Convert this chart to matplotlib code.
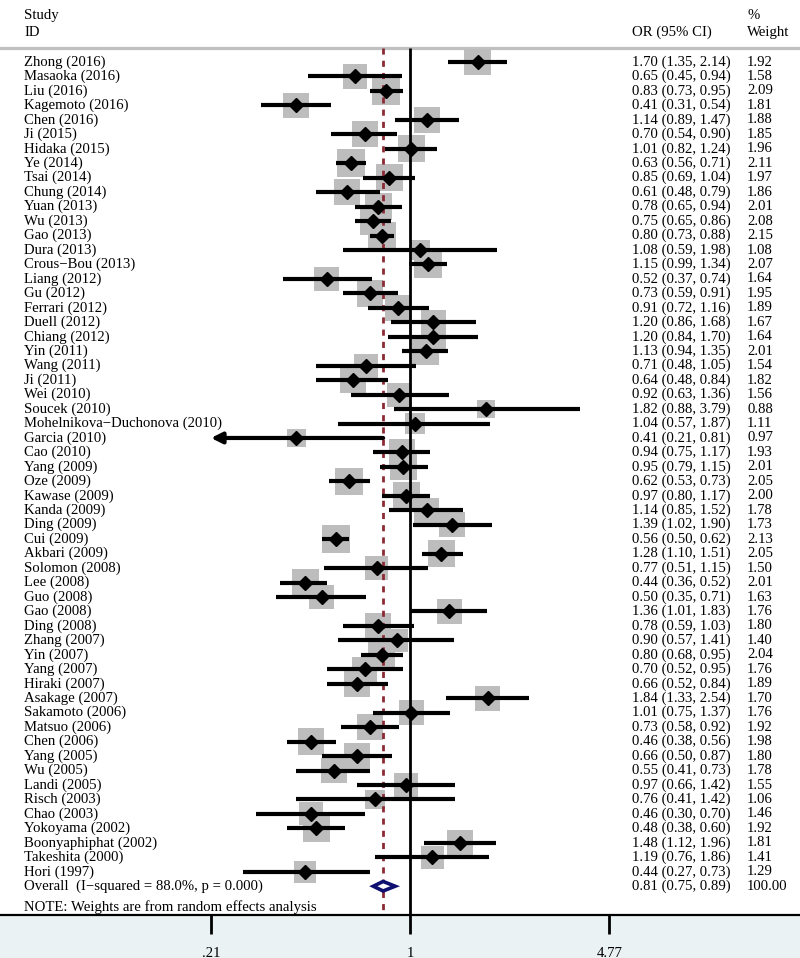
import numpy as np
import matplotlib
matplotlib.use("Agg")
import matplotlib.pyplot as plt
from matplotlib.transforms import blended_transform_factory
from matplotlib.ticker import NullLocator

plt.rcParams['font.family'] = ['Liberation Serif', 'DejaVu Serif']

# study data
studies = ["Zhong (2016)", "Masaoka (2016)", "Liu (2016)", "Kagemoto (2016)", "Chen (2016)",
           "Ji (2015)", "Hidaka (2015)", "Ye (2014)", "Tsai (2014)", "Chung (2014)",
           "Yuan (2013)", "Wu (2013)", "Gao (2013)", "Dura (2013)", "Crous\u2212Bou (2013)",
           "Liang (2012)", "Gu (2012)", "Ferrari (2012)", "Duell (2012)", "Chiang (2012)",
           "Yin (2011)", "Wang (2011)", "Ji (2011)", "Wei (2010)", "Soucek (2010)",
           "Mohelnikova\u2212Duchonova (2010)", "Garcia (2010)", "Cao (2010)", "Yang (2009)",
           "Oze (2009)", "Kawase (2009)", "Kanda (2009)", "Ding (2009)", "Cui (2009)",
           "Akbari (2009)", "Solomon (2008)", "Lee (2008)", "Guo (2008)", "Gao (2008)",
           "Ding (2008)", "Zhang (2007)", "Yin (2007)", "Yang (2007)", "Hiraki (2007)",
           "Asakage (2007)", "Sakamoto (2006)", "Matsuo (2006)", "Chen (2006)", "Yang (2005)",
           "Wu (2005)", "Landi (2005)", "Risch (2003)", "Chao (2003)", "Yokoyama (2002)",
           "Boonyaphiphat (2002)", "Takeshita (2000)", "Hori (1997)"]
odds = [1.70, 0.65, 0.83, 0.41, 1.14, 0.70, 1.01, 0.63, 0.85, 0.61,
        0.78, 0.75, 0.80, 1.08, 1.15, 0.52, 0.73, 0.91, 1.20, 1.20,
        1.13, 0.71, 0.64, 0.92, 1.82, 1.04, 0.41, 0.94, 0.95, 0.62,
        0.97, 1.14, 1.39, 0.56, 1.28, 0.77, 0.44, 0.50, 1.36, 0.78,
        0.90, 0.80, 0.70, 0.66, 1.84, 1.01, 0.73, 0.46, 0.66, 0.55,
        0.97, 0.76, 0.46, 0.48, 1.48, 1.19, 0.44]
lower = [1.35, 0.45, 0.73, 0.31, 0.89, 0.54, 0.82, 0.56, 0.69, 0.48,
         0.65, 0.65, 0.73, 0.59, 0.99, 0.37, 0.59, 0.72, 0.86, 0.84,
         0.94, 0.48, 0.48, 0.63, 0.88, 0.57, 0.21, 0.75, 0.79, 0.53,
         0.80, 0.85, 1.02, 0.50, 1.10, 0.51, 0.36, 0.35, 1.01, 0.59,
         0.57, 0.68, 0.52, 0.52, 1.33, 0.75, 0.58, 0.38, 0.50, 0.41,
         0.66, 0.41, 0.30, 0.38, 1.12, 0.76, 0.27]
upper = [2.14, 0.94, 0.95, 0.54, 1.47, 0.90, 1.24, 0.71, 1.04, 0.79,
         0.94, 0.86, 0.88, 1.98, 1.34, 0.74, 0.91, 1.16, 1.68, 1.70,
         1.35, 1.05, 0.84, 1.36, 3.79, 1.87, 0.81, 1.17, 1.15, 0.73,
         1.17, 1.52, 1.90, 0.62, 1.51, 1.15, 0.52, 0.71, 1.83, 1.03,
         1.41, 0.95, 0.95, 0.84, 2.54, 1.37, 0.92, 0.56, 0.87, 0.73,
         1.42, 1.42, 0.70, 0.60, 1.96, 1.86, 0.73]
weights = [1.92, 1.58, 2.09, 1.81, 1.88, 1.85, 1.96, 2.11, 1.97, 1.86,
           2.01, 2.08, 2.15, 1.08, 2.07, 1.64, 1.95, 1.89, 1.67, 1.64,
           2.01, 1.54, 1.82, 1.56, 0.88, 1.11, 0.97, 1.93, 2.01, 2.05,
           2.00, 1.78, 1.73, 2.13, 2.05, 1.50, 2.01, 1.63, 1.76, 1.80,
           1.40, 2.04, 1.76, 1.89, 1.70, 1.76, 1.92, 1.98, 1.80, 1.78,
           1.55, 1.06, 1.46, 1.92, 1.81, 1.41, 1.29]
overall_or, overall_lo, overall_hi, overall_w = 0.81, 0.75, 0.89, 100.00
overall_label = "Overall  (I\u2212squared = 88.0%, p = 0.000)"
note = "NOTE: Weights are from random effects analysis"
tick_vals = [0.21, 1, 4.77]
tick_labels = [".21", "1", "4.77"]

odds = np.array(odds)
lower = np.array(lower)
upper = np.array(upper)
weights = np.array(weights)
rows = np.arange(len(studies))
n = len(studies)

fig = plt.figure(figsize=(8, 9.58), dpi=100, facecolor='#EAF2F3')
ax = fig.add_axes([0, 43 / 958, 1, 915 / 958])
ax.set_facecolor('white')
ax.set_xscale('log')

# log axis: 1 sits at 410 px, .21 and 4.77 are ~199 px away
k = 199 / np.log(1 / 0.21)
ax.set_xlim(np.exp(-410 / k), np.exp(390 / k))
y_bottom = 58.99
y_top = -4.29
ax.set_ylim(y_bottom, y_top)
hdr = -0.97

ax.axhline(hdr, color='#C0C0C0', lw=2.3, zorder=1)
ax.vlines(1, hdr, y_bottom, color='black', lw=2, zorder=3)
ax.vlines(overall_or, hdr, y_bottom, color='#8B2A35', lw=2,
          linestyles=(0, (2.2, 2.2)), zorder=3)

# weight boxes
ax.scatter(odds, rows, s=weights * 190, marker='s', color='#BDBDBD',
           linewidths=0, zorder=2)

# confidence intervals, arrow where the CI runs off the axis
off = lower <= tick_vals[0]
ax.hlines(rows[~off], lower[~off], upper[~off], color='black', lw=3, zorder=4)
for r in rows[off]:
    ax.annotate('', xy=(lower[r], r), xytext=(upper[r], r),
                arrowprops=dict(arrowstyle='-|>', color='black', lw=3,
                                mutation_scale=16, shrinkA=0, shrinkB=0),
                zorder=4)

ax.plot(odds, rows, 'D', color='black', ms=7.5, linestyle='none', zorder=5)

# pooled estimate diamond
oy = n
ax.fill([overall_lo, overall_or, overall_hi, overall_or],
        [oy, oy - 0.33, oy, oy + 0.33], facecolor='white',
        edgecolor='#101070', lw=2.6, zorder=6)

# text columns
tr = blended_transform_factory(ax.transAxes, ax.transData)
fs = 10.6
x_name, x_ci, x_w = 24 / 800, 632 / 800, 747 / 800
for r, name in enumerate(studies):
    ax.text(x_name, r, name, transform=tr, fontsize=fs, va='center')
    ax.text(x_ci, r, f"{odds[r]:.2f} ({lower[r]:.2f}, {upper[r]:.2f})",
            transform=tr, fontsize=fs, va='center')
    ax.text(x_w, r, f"{weights[r]:.2f}", transform=tr, fontsize=fs, va='center')

ax.text(x_name, oy, overall_label, transform=tr, fontsize=fs, va='center')
ax.text(x_ci, oy, f"{overall_or:.2f} ({overall_lo:.2f}, {overall_hi:.2f})",
        transform=tr, fontsize=fs, va='center')
ax.text(x_w, oy, f"{overall_w:.2f}", transform=tr, fontsize=fs, va='center')
ax.text(x_name, n + 1.42, note, transform=tr, fontsize=fs, va='center')

# headers
ax.text(x_name, -3.25, "Study", transform=tr, fontsize=fs, va='center')
ax.text(x_name, -2.07, "ID", transform=tr, fontsize=fs, va='center')
ax.text(x_ci, -2.07, "OR (95% CI)", transform=tr, fontsize=fs, va='center')
ax.text(x_w, -3.25, "%", transform=tr, fontsize=fs, va='center')
ax.text(x_w, -2.07, "Weight", transform=tr, fontsize=fs, va='center')

ax.set_xticks(tick_vals)
ax.set_xticklabels(tick_labels)
ax.xaxis.set_minor_locator(NullLocator())
ax.set_yticks([])
ax.tick_params(axis='x', length=14, width=2, pad=9, labelsize=fs, direction='out')
for side in ['top', 'left', 'right']:
    ax.spines[side].set_visible(False)
ax.spines['bottom'].set_linewidth(1.6)

fig.savefig('out.png', dpi=100, facecolor=fig.get_facecolor())
